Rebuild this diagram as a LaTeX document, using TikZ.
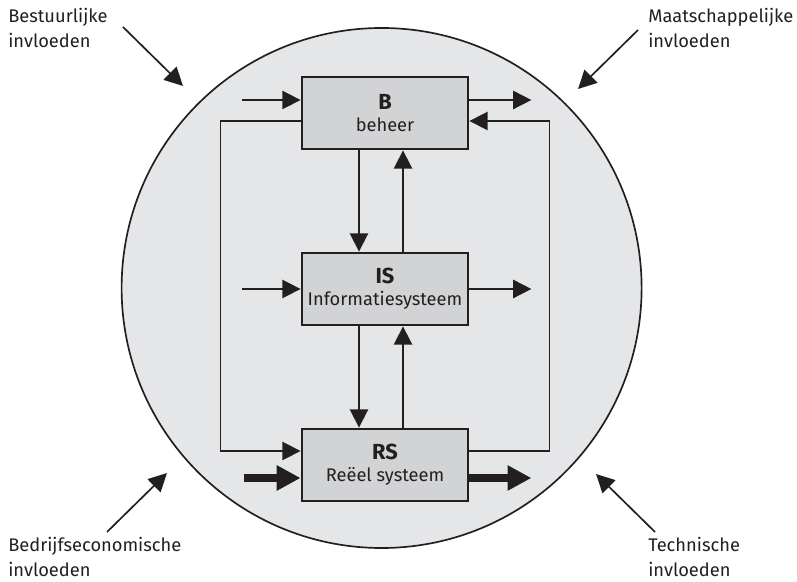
\documentclass[tikz,border=0pt]{standalone}
\usepackage{fontspec}
\setmainfont{Fira Sans}
\definecolor{sysgray}{RGB}{210,211,213}
\definecolor{worldgray}{RGB}{229,230,232}
\definecolor{sysink}{RGB}{35,31,32}
\usetikzlibrary{arrows.meta,positioning,calc}
\tikzset{
  sysbox/.style={draw=sysink, fill=sysgray, line width=2pt, minimum width=4.15cm, minimum height=1.8cm,
    inner sep=0pt, align=center, font=\fontsize{13}{15.5}\selectfont, text=sysink},
  flow/.style={draw=sysink, line width=1.2pt, -{Triangle[length=13pt,width=13pt]}},
  bigflow/.style={draw=sysink, line width=5pt, -{Triangle[length=17pt,width=17pt]}},
  influence/.style={align=left, inner sep=0pt, font=\fontsize{13}{17.8}\selectfont, text=sysink}
}
\newcommand{\syscode}[1]{{\fontsize{15.5}{15.5}\selectfont\bfseries #1}}

\begin{document}
\begin{tikzpicture}
  \useasboundingbox (0,0) rectangle (19.925,14.525);

  % Omgeving
  \node[circle, draw=sysink, fill=worldgray, line width=1.2pt, minimum size=13cm] (world) at (9.54,7.325) {};

  % Drie deelsystemen
  \node[sysbox] (B) at (9.625,11.7) {\syscode{B}\\beheer};
  \node[sysbox] (IS) at (9.625,7.3) {\syscode{IS}\\Informatiesysteem};
  \node[sysbox] (RS) at (9.625,2.9) {\syscode{RS}\\Reëel systeem};

  % Stromen in en uit
  \draw[flow] ($(B.west)+(-1.475,0.325)$) -- ($(B.west)+(0,0.325)$);
  \draw[flow] ($(B.east)+(0,0.325)$) -- ($(B.east)+(1.55,0.325)$);
  \draw[flow] ($(IS.west)+(-1.475,0)$) -- (IS.west);
  \draw[flow] (IS.east) -- ($(IS.east)+(1.55,0)$);
  \draw[bigflow] ($(RS.west)+(-1.425,-0.325)$) -- ($(RS.west)+(0,-0.325)$);
  \draw[bigflow] ($(RS.east)+(0,-0.325)$) -- ($(RS.east)+(1.55,-0.325)$);

  % Verticale koppelingen
  \draw[flow] ($(B.south)+(-0.65,0)$) -- ($(IS.north)+(-0.65,0)$);
  \draw[flow] ($(IS.north)+(0.45,0)$) -- ($(B.south)+(0.45,0)$);
  \draw[flow] ($(IS.south)+(-0.65,0)$) -- ($(RS.north)+(-0.65,0)$);
  \draw[flow] ($(RS.north)+(0.45,0)$) -- ($(IS.south)+(0.45,0)$);

  % Terugkoppelingen
  \draw[flow] ($(B.west)+(0,-0.2)$) -- ++(-2,0) |- ($(RS.west)+(0,0.35)$);
  \draw[flow] ($(RS.east)+(0,0.35)$) -- ++(2,0) |- ($(B.east)+(0,-0.2)$);

  % Invloeden
  \node[influence, anchor=base west] (bestuur) at (0.2,13.325) {Bestuurlijke\\invloeden};
  \node[influence, anchor=base west] (maatsch) at (16.2,13.325) {Maatschappelijke\\invloeden};
  \node[influence, anchor=base west] (bedrijf) at (0.2,0.1) {Bedrijfseconomische\\invloeden};
  \node[influence, anchor=base west] (techn) at (16.2,0.1) {Technische\\invloeden};

  \coordinate (bestuurtail) at (3.075,13.85);
  \coordinate (bestuurtip) at (4.575,12.375);
  \coordinate (maatschtail) at (15.95,13.775);
  \coordinate (maatschtip) at (14.45,12.3);
  \coordinate (bedrijftail) at (2.675,1.225);
  \coordinate (bedrijftip) at (4.175,2.7);
  \coordinate (techntail) at (16.375,1.225);
  \coordinate (techntip) at (14.9,2.675);
  \draw[flow] (bestuurtail) -- (bestuurtip);
  \draw[flow] (maatschtail) -- (maatschtip);
  \draw[flow] (bedrijftail) -- (bedrijftip);
  \draw[flow] (techntail) -- (techntip);
\end{tikzpicture}
\end{document}
